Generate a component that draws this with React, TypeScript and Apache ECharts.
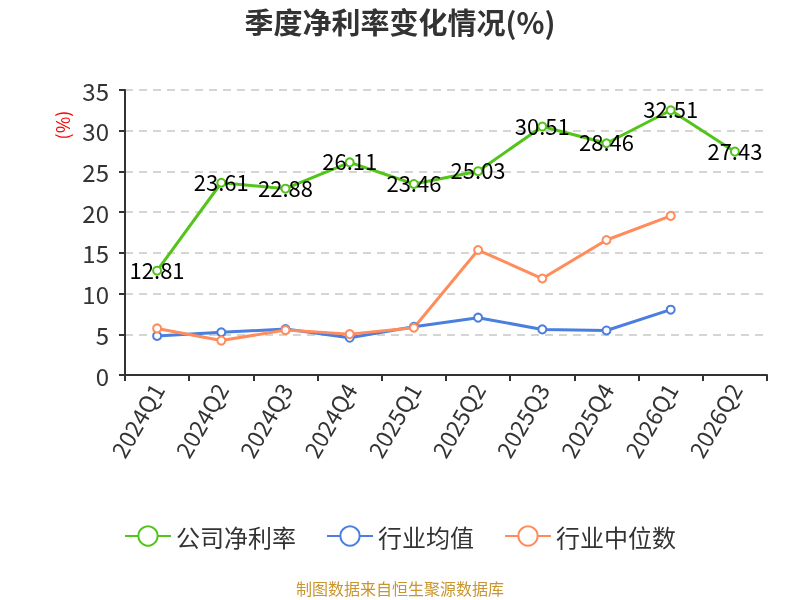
import React, { useEffect, useRef } from "react";
import * as echarts from "echarts";

const categories = ["2024Q1", "2024Q2", "2024Q3", "2024Q4", "2025Q1", "2025Q2", "2025Q3", "2025Q4", "2026Q1", "2026Q2"];
const companyRate = [12.81, 23.61, 22.88, 26.11, 23.46, 25.03, 30.51, 28.46, 32.51, 27.43];
const industryAvg = [4.8, 5.25, 5.64, 4.57, 5.93, 7.04, 5.6, 5.47, 8.02];
const industryMedian = [5.72, 4.23, 5.52, 5.02, 5.8, 15.35, 11.85, 16.58, 19.54];
const yTicks = { min: 0, max: 35, interval: 5 };

const font = "'Noto Sans CJK SC', 'Noto Sans', sans-serif";

export default function App() {
  const ref = useRef<HTMLDivElement>(null);
  useEffect(() => {
    const chart = echarts.init(ref.current!, null, { renderer: "svg" });
    chart.setOption({
      animation: false,
      textStyle: { fontFamily: font },
      title: {
        text: "季度净利率变化情况(%)",
        left: "center",
        top: 1,
        textStyle: { fontSize: 29, fontWeight: "bold", color: "#333", fontFamily: font },
      },
      legend: {
        top: 519,
        left: "center",
        itemWidth: 46,
        itemHeight: 24,
        itemGap: 30,
        textStyle: { fontSize: 24, color: "#333", fontFamily: font },
        data: ["公司净利率", "行业均值", "行业中位数"],
      },
      graphic: [
        {
          type: "text",
          left: "center",
          top: 580,
          style: { text: "制图数据来自恒生聚源数据库", fill: "#c8952e", fontSize: 16, fontFamily: font },
        },
        {
          type: "text",
          x: 62,
          y: 125,
          rotation: Math.PI / 2,
          style: { text: "(%)", fill: "red", fontSize: 18, fontFamily: font, align: "center", verticalAlign: "middle" },
        },
      ],
      grid: { left: 125, right: 33, top: 90, bottom: 225 },
      xAxis: {
        type: "category",
        data: categories,
        boundaryGap: true,
        axisLine: { lineStyle: { color: "#333", width: 2 } },
        axisTick: { show: true, length: 6, lineStyle: { color: "#333", width: 2 } },
        axisLabel: { rotate: 60, fontSize: 23, color: "#333", margin: 10, interval: 0, fontFamily: font },
      },
      yAxis: {
        type: "value",
        min: yTicks.min,
        max: yTicks.max,
        interval: yTicks.interval,
        axisLine: { show: true, lineStyle: { color: "#333", width: 2 } },
        axisTick: { show: true, length: 6, lineStyle: { color: "#333", width: 2 } },
        axisLabel: { fontSize: 24, color: "#333", margin: 16, fontFamily: font },
        splitLine: { lineStyle: { type: [8, 6], color: "#c8c8c8", width: 1.5 } },
      },
      series: [
        {
          name: "公司净利率",
          type: "line",
          data: companyRate,
          symbol: "emptyCircle",
          symbolSize: 8,
          itemStyle: { color: "#52c41a" },
          lineStyle: { width: 3, color: "#52c41a" },
          label: { show: true, position: "inside", fontSize: 22, color: "#000", offset: [0, -2], fontFamily: font },
          z: 3,
        },
        {
          name: "行业均值",
          type: "line",
          data: industryAvg,
          symbol: "emptyCircle",
          symbolSize: 8,
          itemStyle: { color: "#4a7fe0" },
          lineStyle: { width: 3, color: "#4a7fe0" },
        },
        {
          name: "行业中位数",
          type: "line",
          data: industryMedian,
          symbol: "emptyCircle",
          symbolSize: 8,
          itemStyle: { color: "#ff8c5a" },
          lineStyle: { width: 3, color: "#ff8c5a" },
        },
      ],
    });
    return () => chart.dispose();
  }, []);
  return <div ref={ref} style={{ position: "fixed", left: 0, top: 0, width: 800, height: 600 }} />;
}
